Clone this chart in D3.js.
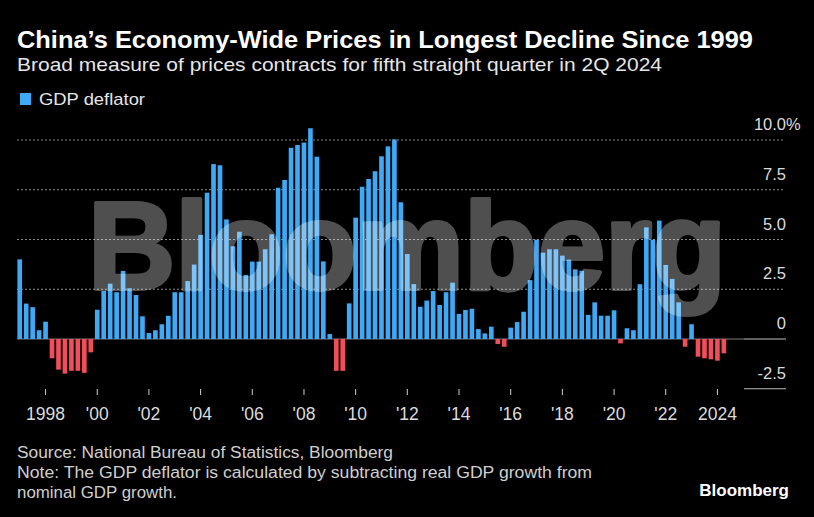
<!DOCTYPE html>
<html>
<head>
<meta charset="utf-8">
<script src="https://cdn.jsdelivr.net/npm/d3@7"></script>
<style>
  html, body { margin: 0; padding: 0; background: #000; }
  svg text { font-family: "Liberation Sans", Arial, sans-serif; }
</style>
</head>
<body>
<div id="chart"></div>
<script>
const chart_width = 814;
const chart_height = 517;

const bar_pos_color = '#3fa9f5';
const bar_neg_color = '#f04e5a';

// quarterly, 1997Q1 .. 2024Q2
const quarters = [
  '1997Q1','1997Q2','1997Q3','1997Q4', '1998Q1','1998Q2','1998Q3','1998Q4',
  '1999Q1','1999Q2','1999Q3','1999Q4', '2000Q1','2000Q2','2000Q3','2000Q4',
  '2001Q1','2001Q2','2001Q3','2001Q4', '2002Q1','2002Q2','2002Q3','2002Q4',
  '2003Q1','2003Q2','2003Q3','2003Q4', '2004Q1','2004Q2','2004Q3','2004Q4',
  '2005Q1','2005Q2','2005Q3','2005Q4', '2006Q1','2006Q2','2006Q3','2006Q4',
  '2007Q1','2007Q2','2007Q3','2007Q4', '2008Q1','2008Q2','2008Q3','2008Q4',
  '2009Q1','2009Q2','2009Q3','2009Q4', '2010Q1','2010Q2','2010Q3','2010Q4',
  '2011Q1','2011Q2','2011Q3','2011Q4', '2012Q1','2012Q2','2012Q3','2012Q4',
  '2013Q1','2013Q2','2013Q3','2013Q4', '2014Q1','2014Q2','2014Q3','2014Q4',
  '2015Q1','2015Q2','2015Q3','2015Q4', '2016Q1','2016Q2','2016Q3','2016Q4',
  '2017Q1','2017Q2','2017Q3','2017Q4', '2018Q1','2018Q2','2018Q3','2018Q4',
  '2019Q1','2019Q2','2019Q3','2019Q4', '2020Q1','2020Q2','2020Q3','2020Q4',
  '2021Q1','2021Q2','2021Q3','2021Q4', '2022Q1','2022Q2','2022Q3','2022Q4',
  '2023Q1','2023Q2','2023Q3','2023Q4', '2024Q1','2024Q2'
];

const gdp_deflator = [
  4.0, 1.78, 1.6, 0.44,     0.87, -0.97, -1.54, -1.74,
  -1.6, -1.6, -1.7, -0.67,  1.47, 2.41, 2.78, 2.35,
  3.42, 2.55, 2.21, 1.14,   0.3, 0.44, 0.74, 1.17,
  2.35, 2.35, 2.91, 3.74,   5.23, 7.35, 8.79, 8.73,
  6.01, 4.66, 5.39, 3.22,   3.89, 3.89, 4.51, 5.26,
  7.6, 7.99, 9.61, 9.75,    9.87, 10.59, 9.16, 3.9,
  0.25, -1.6, -1.6, 1.79,   6.1, 7.65, 8.04, 8.43,
  9.18, 9.68, 10.03, 6.87,  4.27, 2.76, 1.62, 1.93,
  2.41, 1.71, 2.35, 2.83,   1.26, 1.46, 1.52, 0.5,
  0.28, 0.62, -0.25, -0.39, 0.57, 0.85, 1.37, 2.96,
  4.99, 4.34, 4.51, 4.51,   4.19, 3.99, 3.5, 3.43,
  1.21, 1.84, 1.17, 1.17,   1.44, -0.22, 0.54, 0.44,
  2.75, 5.61, 4.99, 5.95,   3.72, 3.02, 1.84, -0.39,
  0.74, -0.89, -0.97, -1.02, -1.09, -0.72
];

const x_tick_quarters = ['1998Q1','2000Q1','2002Q1','2004Q1','2006Q1','2008Q1','2010Q1',
                         '2012Q1','2014Q1','2016Q1','2018Q1','2020Q1','2022Q1','2024Q1'];
const x_tick_labels = ['1998',"'00","'02","'04","'06","'08","'10",
                       "'12","'14","'16","'18","'20","'22",'2024'];
const y_ticks = [-2.5, 0, 2.5, 5, 7.5, 10];
const y_tick_labels = ['-2.5', '0', '2.5', '5.0', '7.5', '10.0'];

const title_text = 'China\u2019s Economy-Wide Prices in Longest Decline Since 1999';
const subtitle_text = 'Broad measure of prices contracts for fifth straight quarter in 2Q 2024';
const legend_text = 'GDP deflator';
const footer_lines = [
  'Source: National Bureau of Statistics, Bloomberg',
  'Note: The GDP deflator is calculated by subtracting real GDP growth from',
  'nominal GDP growth.'
];

var data = quarters.map(function(q, i){ return {q: q, v: gdp_deflator[i]}; });

var svg = d3.select('#chart')
            .append('svg')
            .attr('width', chart_width)
            .attr('height', chart_height)
            .style('display', 'block');

svg.append('rect').attr('width', chart_width).attr('height', chart_height).attr('fill', '#000');

var xScale = d3.scaleBand()
                .domain(quarters)
                .range([16.5, 727.1])
                .paddingInner(0.28)
                .paddingOuter(0.14);
var yScale = d3.scaleLinear()
                .domain([0, 10])
                .range([339, 140]);

// grid lines (dotted above zero)
svg.append('g')
    .selectAll('line')
    .data(y_ticks.filter(function(d){ return d > 0; }))
    .enter()
    .append('line')
    .attr('x1', 17).attr('x2', 784)
    .attr('y1', function(d){ return yScale(d); })
    .attr('y2', function(d){ return yScale(d); })
    .attr('stroke', '#8c8c8c')
    .attr('stroke-width', 1)
    .attr('stroke-dasharray', '2,2');

// zero line
svg.append('line')
    .attr('x1', 17).attr('x2', 744)
    .attr('y1', yScale(0)).attr('y2', yScale(0))
    .attr('stroke', '#7a7a7a').attr('stroke-width', 1);

// short axis rules under 0 and -2.5
svg.append('g')
    .selectAll('line')
    .data(y_ticks.filter(function(d){ return d <= 0; }))
    .enter()
    .append('line')
    .attr('x1', 744).attr('x2', 786)
    .attr('y1', function(d){ return yScale(d); })
    .attr('y2', function(d){ return yScale(d); })
    .attr('stroke', '#bdbdbd').attr('stroke-width', 1.2);

// bars
svg.append('g')
    .selectAll('rect')
    .data(data)
    .enter()
    .append('rect')
    .attr('x', function(d){ return xScale(d.q); })
    .attr('width', xScale.bandwidth())
    .attr('y', function(d){ return yScale(Math.max(0, d.v)); })
    .attr('height', function(d){ return Math.abs(yScale(d.v) - yScale(0)); })
    .attr('fill', function(d){ return d.v >= 0 ? bar_pos_color : bar_neg_color; });

// watermark over the bars (heavy weight: fill + stroke inside a translucent group)
svg.append('g')
    .attr('opacity', 0.31)
    .append('text')
    .attr('x', 88).attr('y', 289)
    .attr('font-size', 124).attr('font-weight', 'bold')
    .attr('textLength', 638).attr('lengthAdjust', 'spacingAndGlyphs')
    .attr('fill', '#fff')
    .attr('stroke', '#fff').attr('stroke-width', 4).attr('stroke-linejoin', 'round')
    .text('Bloomberg');

// y labels
svg.append('g')
    .selectAll('text')
    .data(y_ticks)
    .enter()
    .append('text')
    .attr('x', 786)
    .attr('y', function(d){ return yScale(d) - 10; })
    .attr('text-anchor', 'end')
    .attr('font-size', 16.5)
    .attr('fill', '#dcdcdc')
    .text(function(d, i){ return y_tick_labels[i]; });
svg.append('text')
    .attr('x', 786).attr('y', yScale(10) - 10)
    .attr('font-size', 16.5).attr('fill', '#dcdcdc')
    .text('%');

// x ticks
var xg = svg.append('g');
xg.selectAll('line')
    .data(x_tick_quarters)
    .enter()
    .append('line')
    .attr('x1', function(d){ return xScale(d) + xScale.bandwidth() / 2; })
    .attr('x2', function(d){ return xScale(d) + xScale.bandwidth() / 2; })
    .attr('y1', 389).attr('y2', 395)
    .attr('stroke', '#cfcfcf').attr('stroke-width', 1);
xg.selectAll('text')
    .data(x_tick_quarters)
    .enter()
    .append('text')
    .attr('x', function(d){ return xScale(d) + xScale.bandwidth() / 2; })
    .attr('y', 420)
    .attr('text-anchor', 'middle')
    .attr('font-size', 17.5)
    .attr('fill', '#dcdcdc')
    .text(function(d, i){ return x_tick_labels[i]; });

// title, subtitle, legend
svg.append('text')
    .attr('x', 17).attr('y', 48)
    .attr('font-size', 24).attr('font-weight', 'bold')
    .attr('textLength', 736).attr('lengthAdjust', 'spacingAndGlyphs')
    .attr('fill', '#fff')
    .text(title_text);
svg.append('text')
    .attr('x', 17).attr('y', 71)
    .attr('font-size', 19)
    .attr('textLength', 645).attr('lengthAdjust', 'spacingAndGlyphs')
    .attr('fill', '#e6e6e6')
    .text(subtitle_text);
svg.append('rect')
    .attr('x', 20).attr('y', 93).attr('width', 11).attr('height', 12)
    .attr('fill', bar_pos_color);
svg.append('text')
    .attr('x', 39).attr('y', 105)
    .attr('font-size', 17)
    .attr('textLength', 106).attr('lengthAdjust', 'spacingAndGlyphs')
    .attr('fill', '#e6e6e6')
    .text(legend_text);

// footer
var footer_widths = [376, 575, 160];
svg.append('g')
    .selectAll('text')
    .data(footer_lines)
    .enter()
    .append('text')
    .attr('x', 17)
    .attr('y', function(d, i){ return 458 + i * 20; })
    .attr('font-size', 16)
    .attr('textLength', function(d, i){ return footer_widths[i]; })
    .attr('lengthAdjust', 'spacingAndGlyphs')
    .attr('fill', '#cfcfcf')
    .text(function(d){ return d; });

svg.append('text')
    .attr('x', 789).attr('y', 496)
    .attr('text-anchor', 'end')
    .attr('font-size', 17).attr('font-weight', 'bold')
    .attr('fill', '#fff')
    .text('Bloomberg');
</script>
</body>
</html>
